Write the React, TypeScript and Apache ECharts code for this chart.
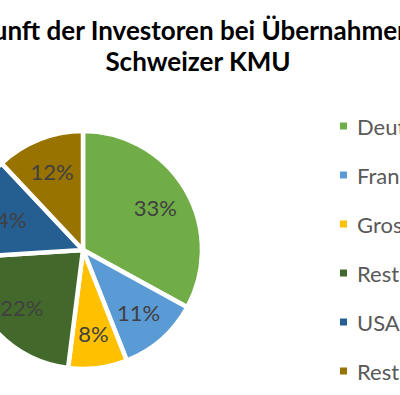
import React, { useEffect, useRef } from "react";
import * as echarts from "echarts";

const categories = ["Deutschland", "Frankreich", "Grossbritannien", "Rest Europa", "USA", "Rest Welt"];
const values = [33, 11, 8, 22, 14, 12];
const colors = ["#70AD47", "#5B9BD5", "#FFC000", "#43682B", "#255E91", "#997300"];
const titleText = "Herkunft der Investoren bei Übernahmen von\nSchweizer KMU";

export default function App() {
  const ref = useRef<HTMLDivElement>(null);
  useEffect(() => {
    document.body.style.margin = "0";
    const chart = echarts.init(ref.current!, null, { renderer: "svg" });
    const data = categories.map((n, i) => ({ name: n, value: values[i], itemStyle: { color: colors[i] } }));
    const R = 119;
    chart.setOption({
      animation: false,
      title: {
        text: titleText,
        left: 193,
        top: 9,
        textAlign: "center",
        textStyle: { fontFamily: "Lato", fontWeight: "bold", fontSize: 26, color: "#000", lineHeight: 31 },
      },
      legend: {
        orient: "vertical",
        left: 333,
        top: 110,
        itemWidth: 9,
        itemHeight: 9,
        itemGap: 27,
        icon: "rect",
        data: categories,
        textStyle: { fontFamily: "Lato", fontSize: 22, color: "#595959", lineHeight: 22, padding: [0, 0, 0, 4] },
      },
      series: [
        {
          type: "pie",
          center: [83, 250],
          radius: [0, R],
          startAngle: 90,
          clockwise: true,
          data,
          label: { show: false },
          labelLine: { show: false },
          itemStyle: { borderColor: "#fff", borderWidth: 4.5 },
          silent: true,
        },
        {
          type: "pie",
          center: [83, 250],
          radius: [R * 0.36, R],
          startAngle: 90,
          clockwise: true,
          data: categories.map((n, i) => ({ name: n, value: values[i], itemStyle: { color: "rgba(0,0,0,0)" } })),
          label: {
            show: true,
            position: "inside",
            formatter: "{c}%",
            fontFamily: "Lato",
            fontSize: 22,
            color: "#404040",
          },
          labelLine: { show: false },
          itemStyle: { borderWidth: 0 },
          silent: true,
          legendHoverLink: false,
        },
      ],
    });
    return () => chart.dispose();
  }, []);
  return <div ref={ref} style={{ width: 400, height: 395 }} />;
}
